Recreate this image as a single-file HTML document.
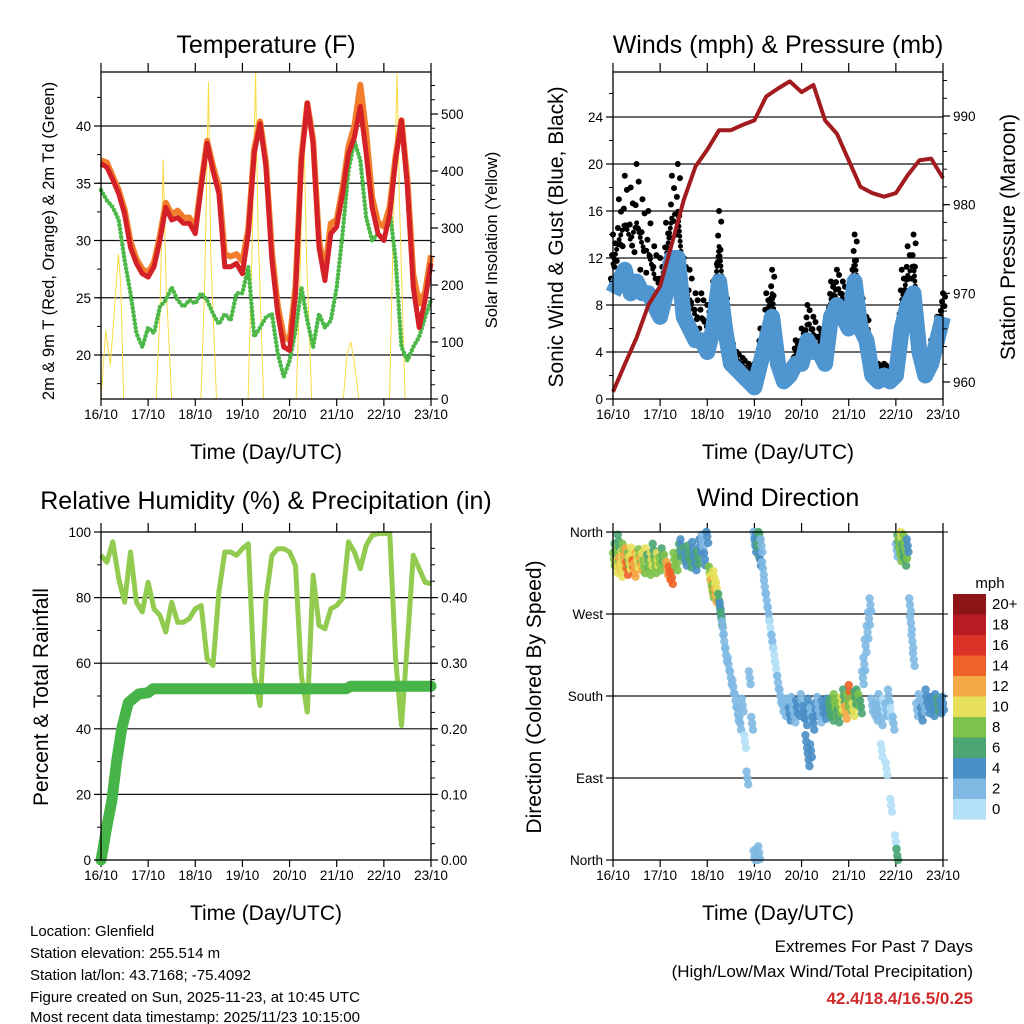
<!DOCTYPE html>
<html><head><meta charset="utf-8"><style>
body{margin:0;background:#fff;}
svg{display:block;font-family:"Liberation Sans",Arial,sans-serif;}
</style></head><body>
<svg id="s" width="1024" height="1024" viewBox="0 0 1024 1024" xmlns="http://www.w3.org/2000/svg">
<rect width="1024" height="1024" fill="#fff"/>
<g font-size="25" text-anchor="middle" fill="#000">
<text x="266" y="53">Temperature (F)</text>
<text x="778" y="53">Winds (mph) &amp; Pressure (mb)</text>
<text x="266" y="509">Relative Humidity (%) &amp; Precipitation (in)</text>
<text x="778" y="506">Wind Direction</text>
</g>
<g font-size="21" text-anchor="middle">
<text x="266" y="459">Time (Day/UTC)</text>
<text x="778" y="459">Time (Day/UTC)</text>
<text x="266" y="920">Time (Day/UTC)</text>
<text x="778" y="920">Time (Day/UTC)</text>
<text transform="translate(563,237) rotate(-90)">Sonic Wind &amp; Gust (Blue, Black)</text>
<text transform="translate(1015,237) rotate(-90)">Station Pressure (Maroon)</text>
<text transform="translate(48,697) rotate(-90)">Percent &amp; Total Rainfall</text>
<text transform="translate(541,697) rotate(-90)">Direction (Colored By Speed)</text>
</g>
<g font-size="16.5" text-anchor="middle">
<text transform="translate(54,241) rotate(-90)">2m &amp; 9m T (Red, Orange) &amp; 2m Td (Green)</text>
<text transform="translate(497,240) rotate(-90)">Solar Insolation (Yellow)</text>
</g>
<g font-size="15" fill="#000">
<text x="30" y="936">Location: Glenfield</text>
<text x="30" y="958">Station elevation: 255.514 m</text>
<text x="30" y="980">Station lat/lon: 43.7168; -75.4092</text>
<text x="30" y="1002">Figure created on Sun, 2025-11-23, at 10:45 UTC</text>
<text x="30" y="1022">Most recent data timestamp: 2025/11/23 10:15:00</text>
</g>
<g font-size="17" text-anchor="end">
<text x="973" y="952">Extremes For Past 7 Days</text>
<text x="973" y="977">(High/Low/Max Wind/Total Precipitation)</text>
<text x="973" y="1004" fill="#d12a2a" font-weight="bold">42.4/18.4/16.5/0.25</text>
</g>
<g id="plots"></g>
</svg>
<script>
// ---------- data ----------
const dayLabels = ["16/10","17/10","18/10","19/10","20/10","21/10","22/10","23/10"];
const tempT = [0,0.125,0.25,0.375,0.5,0.625,0.75,0.875,1,1.125,1.25,1.375,1.5,1.625,1.75,1.875,2,2.125,2.25,2.375,2.5,2.625,2.75,2.875,3,3.125,3.25,3.375,3.5,3.625,3.75,3.875,4,4.125,4.25,4.375,4.5,4.625,4.75,4.875,5,5.125,5.25,5.375,5.5,5.625,5.75,5.875,6,6.125,6.25,6.375,6.5,6.625,6.75,6.875,7];
const temp2m = [36.7,36.4,35.3,34.1,32.3,29.4,28,27.1,26.8,27.7,30,32.9,31.8,32,31.5,31.5,30.6,34.7,38.5,36.1,34.1,27.7,27.7,28,27.1,30.6,37.6,40.2,36.4,28.3,23.6,20.7,20.4,25.4,37,42,38.5,29.4,26.5,30.6,31.2,34.1,37.6,39,41.7,37.6,32.9,30.6,30,32.3,37,40.5,34.7,25.9,22.4,24.8,28];
const temp9m = [37,36.8,35.6,34.4,32.7,29.9,28.4,27.5,27.2,28.1,30.4,33.3,32.3,32.6,32,32,31,35,38.7,36.5,34.7,28.8,28.6,28.8,28.2,31,38,40.4,36.8,29,24.3,21.6,21.3,26,37.3,42,38.8,30,27.3,31.5,31.8,34.6,38.2,40,43.6,39.4,33.8,31.6,31.2,33,37.4,40.5,35.3,27,24.5,25.5,28.7];
const dewpt = [34.4,33.5,32.9,31.8,28.3,25.4,21.9,20.7,22.4,21.9,24.2,24.8,25.9,24.8,24.2,24.8,24.5,25.4,24.8,23.6,22.7,23.6,23,25.4,25.4,27.7,21.6,22.4,23.3,23.6,20.1,18.1,19.5,22.1,25.9,23,20.7,23.6,22.4,23,25.9,30.6,36.1,38.7,37,32,30,30.6,30,32.6,28.3,20.7,19.5,20.7,21.6,23.3,24.8];
const solarT = [0,0.1,0.2,0.28,0.37,0.42,0.48,1.17,1.25,1.32,1.38,1.5,2.12,2.2,2.28,2.33,2.45,3.12,3.2,3.28,3.33,3.45,4.14,4.22,4.3,4.36,4.47,5.14,5.22,5.3,5.38,5.47,6.12,6.2,6.28,6.33,6.45];
const solar = [0,120,60,150,255,200,0,0,150,420,200,0,0,200,557,250,0,0,250,574,300,0,0,200,495,250,0,0,80,100,60,0,0,300,571,350,0];
const windSpd = [9,10,11,9,10,9,9,8,7,9,12,12,7,6,5,5,4,6,10,6,3,2.5,2,1.5,1,3,5,7,3,1.5,2,3,3,5,4,4,3,7,8,7,6,10,6,5,2,1.5,2,1.5,2,6,8,9,4,2,3,5,7];
const gustSpd = [14,17,19,18,20,17,16,13,12,15,19,20,12,11,9,9,8,10,16,9,5,4,3.5,3,3,6,9,11,5,2.5,3,5,6,8,7,6,5,10,11,10,9,14,9,7,3.5,3,3,2.5,3,11,13,14,6,3,5,7,9];
const presT = [0,0.25,0.5,0.75,1,1.25,1.5,1.75,2,2.25,2.5,2.75,3,3.25,3.5,3.75,4,4.25,4.5,4.75,5,5.25,5.5,5.75,6,6.25,6.5,6.75,7];
const pressure = [958.9,962,965,968.7,970.8,975.6,980.5,984.3,986.2,988.4,988.4,989,989.5,992.2,993.1,993.9,992.7,993.5,989.5,988,985,982,981.3,980.9,981.3,983.3,985,985.2,983];
const rh = [92.9,90.8,97,85.8,78.6,93.9,78.6,75.6,84.7,76.6,74.6,69.5,78.6,72.5,72.5,73.6,76.6,77.6,61.3,59.3,81.7,93.9,93.9,92.9,94.9,96.4,56.2,47.1,79.7,92.9,94.9,94.9,93.9,89.8,56.2,45.1,86.8,71.5,70.5,76.6,77.6,79.7,97,93.9,88.8,95.9,99,99.5,99.5,99.5,61.3,41,66.4,92.9,88.8,84.7,84.2];
const precipT = [0,0.05,0.12,0.23,0.33,0.44,0.58,0.8,1.0,1.1,5.2,5.3,7];
const precip = [0,0.02,0.05,0.09,0.15,0.2,0.24,0.253,0.255,0.261,0.261,0.265,0.265];
const dirT = [].concat(
 [0.02,0.05,0.08,0.1,0.12,0.15,0.18,0.2,0.22,0.25,0.28,0.3,0.33,0.36,0.4,0.43,0.46,0.5,0.53,0.56,0.6,0.63,0.66,0.7,0.74,0.78,0.82,0.86,0.9,0.95,1.0,1.05,1.1,1.15,1.2,1.25,1.3,1.35],
 [1.42,1.45,1.5,1.55,1.6,1.65,1.7,1.75,1.8,1.85,1.9,1.95,2.0],
 [2.05,2.08,2.1,2.12,2.15,2.18,2.2,2.25,2.28,2.3],
 [2.33,2.36,2.4,2.45,2.5,2.55,2.6,2.65,2.7,2.75,2.8,2.85,2.9,2.95],
 [3.0,3.02,3.05,3.08,3.1,3.12,3.15,3.0,3.05,3.1],
 [3.18,3.22,3.26,3.3,3.34,3.38,3.42,3.46,3.5,3.55,3.6],
 [3.65,3.7,3.75,3.8,3.85,3.9,3.95,4.0,4.05,4.1,4.15,4.2,4.25,4.3,4.35,4.4,4.45,4.5,4.55,4.6,4.1,4.15,4.2],
 [4.62,4.66,4.7,4.74,4.78,4.82,4.86,4.9,4.94,4.98,5.02,5.06,5.1,5.14,5.18,5.22,5.26],
 [5.3,5.33,5.36,5.4,5.43,5.46],
 [5.5,5.55,5.6,5.65,5.7,5.75,5.8,5.85,5.9,5.95,5.7,5.8,5.9],
 [6.02,6.05,6.08,6.1,6.12,6.15,6.18,6.2,6.22,6.25,6.0,6.03],
 [6.3,6.32,6.35,6.38],
 [6.45,6.5,6.55,6.6,6.65,6.7,6.75,6.8,6.85,6.9,6.95,7.0]);
const dirDeg = [].concat(
 [330,340,322,335,350,325,318,332,340,328,335,320,330,326,336,322,318,330,328,334,325,330,322,335,328,320,330,340,322,330,325,335,328,320,315,310,330,325],
 [340,345,335,330,338,328,342,325,332,345,350,330,355],
 [315,305,300,295,310,290,298,285,275,265],
 [255,240,225,215,200,190,175,160,150,170,130,90,200,150],
 [355,345,350,340,358,330,345,3,5,8],
 [320,300,285,270,255,240,225,210,195,180,170],
 [165,170,160,172,158,168,165,175,162,155,170,160,150,165,172,158,168,162,170,165,130,110,120],
 [170,160,175,165,158,168,172,180,162,175,185,170,165,178,180,175,168],
 [200,215,235,250,265,280],
 [170,165,160,175,155,170,165,180,160,150,120,100,60],
 [340,350,345,335,355,340,350,330,338,345,20,5],
 [280,260,240,220],
 [165,175,160,170,180,168,172,165,175,170,168,172]);
const dirSpd = [].concat(
 [8,6,10,9,6,12,11,10,8,13,12,15,9,11,10,14,12,13,11,8,12,10,9,11,7,8,10,6,9,10,8,6,9,12,14,15,8,9],
 [6,5,7,4,6,7,4,5,6,4,3,5,4],
 [8,10,12,9,11,12,10,7,5,6],
 [3,2,3,2,2,3,2,2,3,2,1,3,2,2],
 [2,4,5,7,6,4,3,3,2,3],
 [2,2,3,2,1,2,1,1,2,3,2],
 [2,3,4,3,2,4,5,3,4,5,4,3,5,4,2,3,5,4,4,6,4,5,4],
 [6,7,8,9,6,8,10,7,12,9,14,8,10,7,6,8,7],
 [3,2,3,2,2,3],
 [2,3,2,3,2,1,2,3,1,2,1,1,1],
 [3,6,8,9,10,7,8,6,9,5,1,6],
 [2,3,2,2],
 [2,3,4,3,4,5,4,5,4,6,5,4]);
const speedLabels = ["20+","18","16","14","12","10","8","6","4","2","0"];
const speedColors = ["#8e1517","#b81c22","#dd3228","#ef6228","#f5a947","#e6e05a","#7dc24b","#4ba672","#4a8fc6","#7fb9e3","#b3e0f6"];

// ---------- helpers ----------
const NS="http://www.w3.org/2000/svg";
const root=document.getElementById('plots');
function mk(tag,attrs,parent){const e=document.createElementNS(NS,tag);for(const k in attrs)e.setAttribute(k,attrs[k]);(parent||root).appendChild(e);return e;}
function lin(d0,d1,r0,r1){return v=>r0+(v-d0)*(r1-r0)/(d1-d0);}
function pts(xs,ys,sx,sy){return xs.map((t,i)=>sx(t).toFixed(1)+","+sy(ys[i]).toFixed(1)).join(" ");}

function frame(name,L,T,R,B,sx,gridVals,sy){
  const g=mk('g',{});
  
  
  gridVals.forEach(v=>{const l=mk('line',{x1:L,x2:R,y1:sy(v),y2:sy(v),stroke:'#111','stroke-width':1.2},g);
    
    });
  dayLabels.forEach((lb,i)=>{const x=sx(i);
    mk('line',{x1:x,x2:x,y1:T-9,y2:T,stroke:'#000','stroke-width':1.2},g);
    mk('line',{x1:x,x2:x,y1:B,y2:B+7,stroke:'#000','stroke-width':1.2},g);
    const tx=mk('text',{x:x,y:B+20,'font-size':13.5,'text-anchor':'middle'},g);tx.textContent=lb;
    
    });
  return g;
}
function border(L,T,R,B,name){const r=mk('rect',{x:L,y:T,width:R-L,height:B-T,fill:'none',stroke:'#000','stroke-width':1.3});
  
  }
function yTicks(vals,labels,sy,x,side,name,minor){
  const g=mk('g',{});
  
  
  (minor||[]).forEach(v=>{mk('line',{x1:x,x2:x+(side<0?-4:4),y1:sy(v),y2:sy(v),stroke:'#000'},g);});
  vals.forEach((v,i)=>{const y=sy(v);mk('line',{x1:x,x2:x+(side<0?-7:7),y1:y,y2:y,stroke:'#000','stroke-width':1.2},g);
    const t=mk('text',{x:x+(side<0?-10:10),y:y+5,'font-size':13.5,'text-anchor':side<0?'end':'start'},g);t.textContent=labels[i];});
}
function range(a,b,s){const r=[];for(let v=a;v<=b+1e-9;v+=s)r.push(+v.toFixed(4));return r;}

// ---------- Panel 1: temperature ----------
{const L=101,R=431,T=72,B=399;
 const sx=lin(0,7,L,R), sy=lin(20,40,355,126), ss=lin(0,500,399,114);
 frame('temp',L,T,R,B,sx,[20,25,30,35,40],sy);
 const so=mk('polyline',{points:pts(solarT,solar,sx,ss),fill:'none',stroke:'#f9dc45','stroke-width':1});
 
 
 const dw=mk('polyline',{points:pts(tempT,dewpt,sx,sy),fill:'none',stroke:'#4cb848','stroke-width':4.5,'stroke-dasharray':'0 4','stroke-linecap':'round','stroke-linejoin':'round'});
 
 
 const o=mk('polyline',{points:pts(tempT,temp9m,sx,sy),fill:'none',stroke:'#f27e2b','stroke-width':6,'stroke-linejoin':'round'});
 
 
 const r=mk('polyline',{points:pts(tempT,temp2m,sx,sy),fill:'none',stroke:'#d42027','stroke-width':5,'stroke-linejoin':'round'});
 
 
 border(L,T,R,B,'temp');
 yTicks([20,25,30,35,40],["20","25","30","35","40"],sy,L,-1,'temp-left-ticks',range(17.5,42.5,2.5));
 yTicks([0,100,200,300,400,500],["0","100","200","300","400","500"],ss,R,1,'solar-right-ticks',range(0,550,25));
}
// ---------- Panel 2: winds ----------
{const L=613,R=943,T=72,B=399;
 const sx=lin(0,7,L,R), sy=lin(0,24,399,117), sp=lin(960,990,382,116);
 frame('winds',L,T,R,B,sx,[4,8,12,16,20,24],sy);
 const fr=[0.25,0.45,0.65,0.85,1.0], off=[-0.045,0.03,-0.02,0.045,0];
 tempT.forEach((t,i)=>{fr.forEach((f,k)=>{
   const v=windSpd[i]+(gustSpd[i]-windSpd[i])*f;
   const c=mk('circle',{cx:sx(t+off[k]),cy:sy(v),r:3,fill:'#000'});
   
   });});
 const mid=windSpd.map((w,i)=>(w+gustSpd[i])/2);
 const gb=mk('polyline',{points:pts(tempT,mid,sx,sy),fill:'none',stroke:'#000','stroke-width':5,'stroke-linejoin':'round','stroke-dasharray':'0 5','stroke-linecap':'round'});
 
 
 const bl=mk('polyline',{points:pts(tempT,windSpd,sx,sy),fill:'none',stroke:'#4f95cf','stroke-width':16,'stroke-linejoin':'round'});
 
 
 const pl=mk('polyline',{points:pts(presT,pressure,sx,sp),fill:'none',stroke:'#a11b1f','stroke-width':4,'stroke-linejoin':'round'});
 
 
 border(L,T,R,B,'winds');
 yTicks([0,4,8,12,16,20,24],["0","4","8","12","16","20","24"],sy,L,-1,'wind-left-ticks',range(2,26,2));
 yTicks([960,970,980,990],["960","970","980","990"],sp,R,1,'pressure-right-ticks',range(960,994,2));
}
// ---------- Panel 3: humidity ----------
{const L=101,R=431,T=532,B=860;
 const sx=lin(0,7,L,R), sy=lin(0,100,860,532), sq=lin(0,0.1,860,794.4);
 frame('humidity',L,T,R,B,sx,[20,40,60,80],sy);
 const rl=mk('polyline',{points:pts(tempT,rh,sx,sy),fill:'none',stroke:'#92cb4f','stroke-width':5,'stroke-linejoin':'round'});
 
 
 const pr=mk('polyline',{points:pts(precipT,precip,sx,sq),fill:'none',stroke:'#46b449','stroke-width':11,'stroke-linejoin':'round','stroke-linecap':'round'});
 
 
 border(L,T,R,B,'humidity');
 yTicks([0,20,40,60,80,100],["0","20","40","60","80","100"],sy,L,-1,'humidity-left-ticks',range(10,90,20));
 yTicks([0,0.1,0.2,0.3,0.4],["0.00","0.10","0.20","0.30","0.40"],sq,R,1,'precip-right-ticks',range(0.025,0.475,0.025));
}
// ---------- Panel 4: wind direction ----------
{const L=613,R=943,T=532,B=860;
 const sx=lin(0,7,L,R), sy=lin(0,360,860,532);
 frame('direction',L,T,R,B,sx,[90,180,270],sy);
 function col(s){const idx=Math.min(10,Math.floor(s/2));return speedColors[10-idx];}
 const jt=[0,-0.018,0.018], jd=[0,7,-7];
 dirT.forEach((t,i)=>{jt.forEach((o,k)=>{
   const d=Math.max(0,Math.min(360,dirDeg[i]+jd[k]));
   const c=mk('circle',{cx:sx(t+o),cy:sy(d),r:4.2,fill:col(dirSpd[i]),'fill-opacity':0.9});
   
   });});
 border(L,T,R,B,'direction');
 yTicks([0,90,180,270,360],["North","East","South","West","North"],sy,L,-1,'direction-left-ticks',[]);
 [0,90,180,270,360].forEach(v=>mk('line',{x1:R,x2:R+5,y1:sy(v),y2:sy(v),stroke:'#000'}));
 const cb=mk('g',{});
 
 
 const mt=mk('text',{x:990,y:588,'font-size':15,'text-anchor':'middle'},cb);mt.textContent='mph';
 speedColors.forEach((c,i)=>{const y=594+i*20.5;
   const r=mk('rect',{x:953,y:y,width:33,height:20.6,fill:c},cb);
   
   
   const t=mk('text',{x:992,y:y+15,'font-size':15},cb);t.textContent=speedLabels[i];});
}
</script>
</body></html>
